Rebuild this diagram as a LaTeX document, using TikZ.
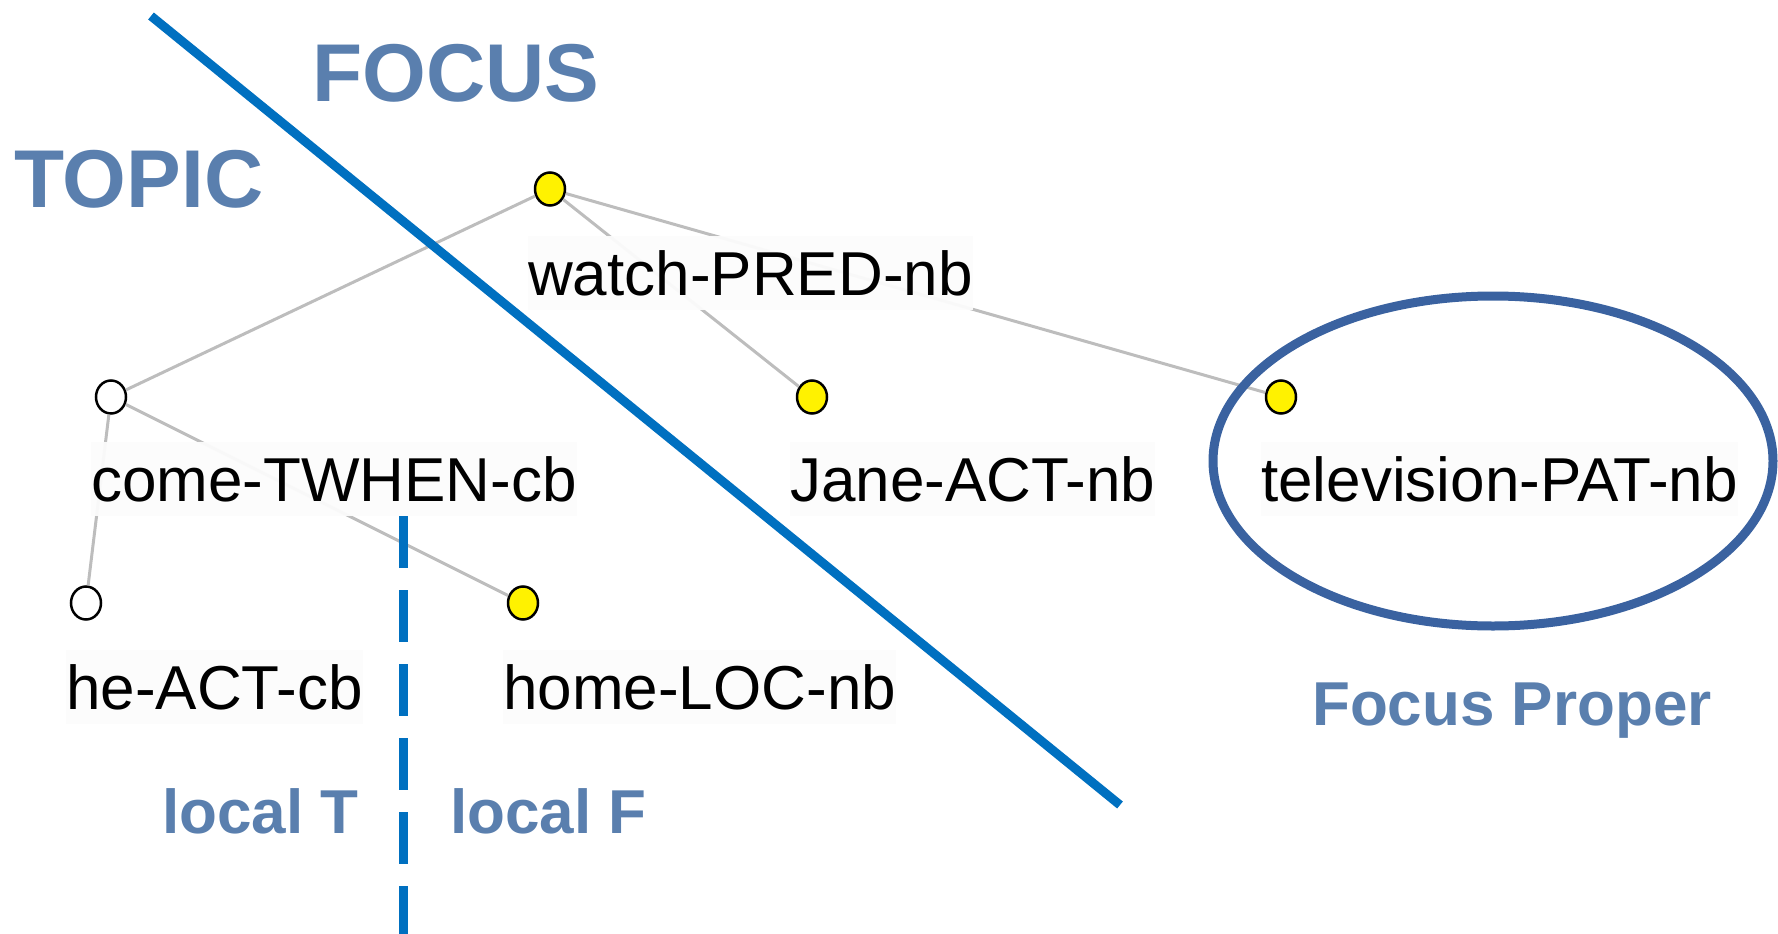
\documentclass[tikz,border=0pt]{standalone}
\usepackage{fontspec}
\setmainfont{Liberation Sans}
\usepackage{xcolor}
\definecolor{LineBlue}{HTML}{0070C0}
\definecolor{TextBlue}{HTML}{5A7FAE}
\definecolor{RingBlue}{HTML}{3A62A0}
\definecolor{EdgeGrey}{HTML}{BDBDBD}
\usepackage{tikz}
\usetikzlibrary{shapes}
\newcommand\WordSize{\fontsize{62}{70}\selectfont}
\newcommand\BigSize{\fontsize{82}{90}\selectfont\bfseries}
\newcommand\TagSize{\fontsize{62}{70}\selectfont\bfseries}
\newcommand\RowA{189}
\newcommand\RowB{397}
\newcommand\RowC{603}
\tikzstyle{dot}=[ellipse,draw=black,line width=2.5pt,
                     minimum width=30pt,minimum height=33pt,inner sep=0pt]
\tikzstyle{nb}=[dot,fill=yellow]
\tikzstyle{cb}=[dot,fill=white]
\tikzstyle{edge}=[draw=EdgeGrey,line width=3pt]
\tikzstyle{word}=[anchor=base west,inner xsep=0pt,inner ysep=14pt,
                     fill=white!99!black,fill opacity=0.95,text opacity=1,font=\WordSize]
\tikzstyle{tag}=[anchor=base west,inner sep=0pt,text=TextBlue,font=\TagSize]
\tikzstyle{bigtag}=[tag,font=\BigSize]

\begin{document}
\begin{tikzpicture}[x=1pt,y=-1pt]
      \useasboundingbox (0,0) rectangle (1778,934);
      % tree nodes
      \node[nb] (watch) at (550,\RowA) {};
      \node[cb] (come) at (111,\RowB) {};
      \node[nb] (jane) at (812,\RowB) {};
      \node[nb] (tv) at (1281,\RowB) {};
      \node[cb] (he) at (86,\RowC) {};
      \node[nb] (home) at (523,\RowC) {};
      \draw[edge] (watch) -- (come);
      \draw[edge] (watch) -- (jane);
      \draw[edge] (watch) -- (tv);
      \draw[edge] (come) -- (he);
      \draw[edge] (come) -- (home);
      % labels
      \node[word] (watchL) at (528,295) {watch-PRED-nb};
      \node[word] (comeL) at (91,501) {come-TWHEN-cb};
      \node[word] (janeL) at (790,501) {Jane-ACT-nb};
      \node[word] (tvL) at (1261,501) {television-PAT-nb};
      \node[word] (heL) at (66,709) {he-ACT-cb};
      \node[word] (homeL) at (503,709) {home-LOC-nb};
      % topic / focus split
      \coordinate (cutA) at (151,16);
      \coordinate (cutB) at (1120,805);
      \draw[LineBlue,line width=9pt] (cutA) -- (cutB);
      \coordinate (dashA) at (403,516);
      \coordinate (dashB) at (403,934);
      \draw[LineBlue,line width=9pt,dash pattern=on 52pt off 22pt] (dashA) -- (dashB);
      \node[draw=RingBlue,line width=9pt,ellipse,minimum width=560pt,minimum height=330pt] (proper) at (1493,461) {};
      \node[bigtag] (focus) at (312,101) {FOCUS};
      \node[bigtag] (topic) at (14,207) {TOPIC};
      \node[tag] (properL) at (1312,725) {Focus Proper};
      \node[tag] (localT) at (162,833) {local T};
      \node[tag] (localF) at (450,833) {local F};
\end{tikzpicture}
\end{document}
